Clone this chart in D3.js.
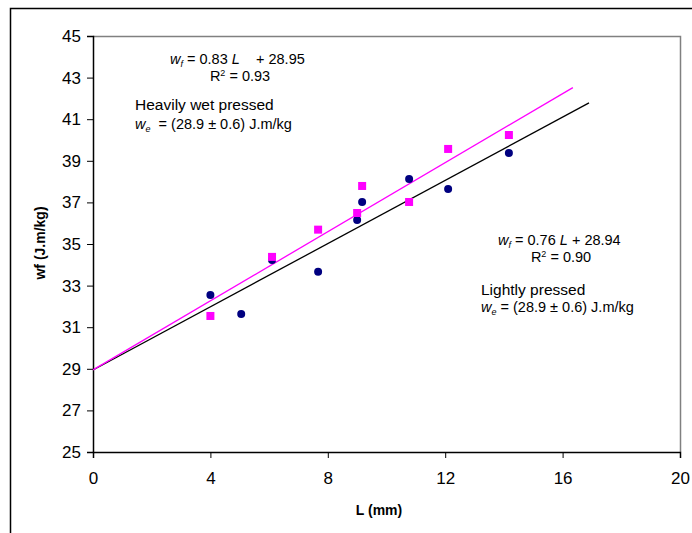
<!DOCTYPE html>
<html lang="en">
<head>
  <meta charset="utf-8" />
  <title>wf vs L</title>
  <script src="https://cdn.jsdelivr.net/npm/d3@7"></script>
  <style>
    body { margin: 0; background: #fff; }
    text { font-family: "Liberation Sans", Arial, sans-serif; }
  </style>
</head>
<body>
  <script>
    // Lightly pressed (navy circles)
    var lightL  = [4.0, 5.05, 6.1, 7.67, 9.0, 9.17, 10.77, 12.1, 14.17];
    var lightWf = [32.55, 31.63, 34.23, 33.67, 36.15, 37.02, 38.13, 37.64, 39.38];
    // Heavily wet pressed (magenta squares)
    var heavyL  = [4.0, 6.1, 7.67, 9.0, 9.17, 10.77, 12.1, 14.17];
    var heavyWf = [31.54, 34.38, 35.69, 36.49, 37.79, 37.02, 39.57, 40.24];
    // trendlines: slope, intercept, end of extension
    var heavyFit = { slope: 0.83, intercept: 28.95, xEnd: 16.35 };
    var lightFit = { slope: 0.76, intercept: 28.94, xEnd: 16.9 };

    var xTicks = [0, 4, 8, 12, 16, 20];
    var yTicks = [25, 27, 29, 31, 33, 35, 37, 39, 41, 43, 45];

    drawChart();

    function drawChart() {
      var W = 692, H = 533;
      var pl = 93, pr = 680, pt = 36, pb = 452;

      var svg = d3.select("body").append("svg").attr("width", W).attr("height", H);

      // outer chart frame
      svg.append("rect").attr("x", 10.5).attr("y", 8.5).attr("width", 700).attr("height", 600)
        .attr("fill", "none").attr("stroke", "#000").attr("stroke-width", 1.5);

      var x = d3.scaleLinear().domain([0, 20]).range([pl, pr]);
      var y = d3.scaleLinear().domain([25, 45]).range([pb, pt]);

      // plot area border (top and right gray)
      svg.append("path")
        .attr("d", "M" + pl + "," + (pt + 0.5) + "H" + (pr + 0.5) + "V" + pb)
        .attr("fill", "none").attr("stroke", "#808080").attr("stroke-width", 1.5);

      var xAxis = svg.append("g").attr("transform", "translate(0," + pb + ")")
        .call(d3.axisBottom(x).tickValues(xTicks).tickSize(6).tickPadding(14).tickFormat(d3.format("d")));
      var yAxis = svg.append("g").attr("transform", "translate(" + pl + ",0)")
        .call(d3.axisLeft(y).tickValues(yTicks).tickSize(6).tickPadding(6).tickFormat(d3.format("d")));
      [xAxis, yAxis].forEach(function(a) {
        a.select(".domain").attr("stroke", "#000").attr("stroke-width", 1.5);
        a.selectAll(".tick line").attr("stroke", "#000");
        a.selectAll(".tick text").attr("font-size", 17).attr("fill", "#000")
          .attr("font-family", "'Liberation Sans', Arial, sans-serif");
      });

      // axis titles
      svg.append("text").attr("x", 379).attr("y", 515).attr("text-anchor", "middle")
        .attr("font-size", 14).attr("font-weight", "bold").text("L (mm)");
      svg.append("text").attr("transform", "translate(45,243) rotate(-90)").attr("text-anchor", "middle")
        .attr("font-size", 14).attr("font-weight", "bold").text("wf (J.m/kg)");

      // trendlines
      function fitLine(f, color) {
        var pts = [0, f.xEnd].map(function(l) { return [l, f.slope * l + f.intercept]; });
        svg.append("path")
          .attr("d", d3.line().x(function(d) { return x(d[0]); }).y(function(d) { return y(d[1]); })(pts))
          .attr("fill", "none").attr("stroke", color).attr("stroke-width", 1.3);
      }
      fitLine(lightFit, "#000");
      fitLine(heavyFit, "#ff00ff");

      svg.append("g").selectAll("circle")
        .data(d3.range(lightL.length))
        .enter().append("circle")
        .attr("cx", function(i) { return x(lightL[i]); })
        .attr("cy", function(i) { return y(lightWf[i]); })
        .attr("r", 4)
        .attr("fill", "#000080");

      svg.append("g").selectAll("rect")
        .data(d3.range(heavyL.length))
        .enter().append("rect")
        .attr("x", function(i) { return x(heavyL[i]) - 4; })
        .attr("y", function(i) { return y(heavyWf[i]) - 4; })
        .attr("width", 8).attr("height", 8)
        .attr("fill", "#ff00ff");

      // annotations
      var fs = 14.5;
      function wLabel(xp, yp, sub, rest) {
        var t = svg.append("text").attr("x", xp).attr("y", yp).attr("font-size", fs);
        t.append("tspan").attr("font-style", "italic").text("w");
        t.append("tspan").attr("font-style", "italic").attr("font-size", 9).attr("dy", 3).text(sub);
        t.append("tspan").attr("dy", -3).text(rest);
        return t;
      }
      function eqLabel(xp, yp, slope, intercept, gap) {
        var t = wLabel(xp, yp, "f", " = " + slope + " ");
        t.append("tspan").attr("font-style", "italic").text("L");
        t.append("tspan").text(gap + "+ " + intercept);
      }
      function r2Label(xp, yp, v) {
        var t = svg.append("text").attr("x", xp).attr("y", yp).attr("font-size", fs).attr("text-anchor", "middle");
        t.append("tspan").text("R");
        t.append("tspan").attr("font-size", 9).attr("dy", -5).text("2");
        t.append("tspan").attr("dy", 5).text(" = " + v);
      }

      eqLabel(170, 64, "0.83", "28.95", "\u00a0\u00a0\u00a0\u00a0");
      r2Label(240, 81, "0.93");
      svg.append("text").attr("x", 135).attr("y", 110).attr("font-size", 15.5).text("Heavily wet pressed");
      wLabel(135, 129, "e", "\u00a0 = (28.9 \u00b1 0.6) J.m/kg");

      eqLabel(498, 245, "0.76", "28.94", "\u00a0");
      r2Label(561, 262, "0.90");
      svg.append("text").attr("x", 481).attr("y", 295).attr("font-size", 15.5).text("Lightly pressed");
      wLabel(481, 312, "e", " = (28.9 \u00b1 0.6) J.m/kg");
    }
  </script>
</body>
</html>
